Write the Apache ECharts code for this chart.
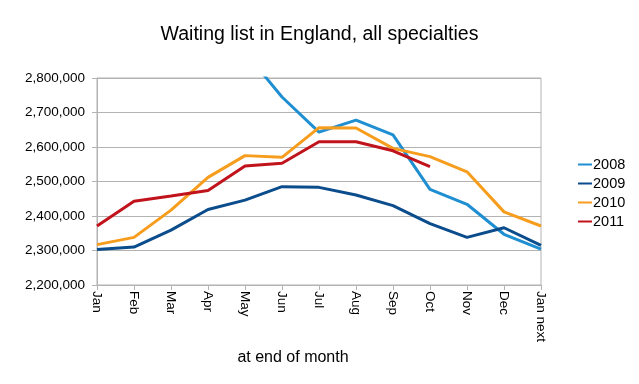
<!DOCTYPE html>
<html><head><meta charset="utf-8">
<script src="https://cdn.jsdelivr.net/npm/echarts@6/dist/echarts.min.js"></script>
<style>html,body{margin:0;padding:0;background:#fff}#c{width:639px;height:384px}</style>
</head><body><div id="c"></div>
<script>
const months = ['Jan','Feb','Mar','Apr','May','Jun','Jul','Aug','Sep','Oct','Nov','Dec','Jan next'];
const y2008 = [null,null,null,null,2875000,2745000,2643000,2678000,2635000,2477000,2434000,2347000,2304000];
const y2009 = [2303000,2310000,2359000,2419000,2446000,2485000,2483000,2461000,2430000,2378000,2338000,2366000,2315000];
const y2010 = [2317000,2338000,2417000,2512000,2575000,2570000,2656000,2655000,2596000,2572000,2528000,2412000,2371000];
const y2011 = [2371000,2443000,2458000,2474000,2545000,2553000,2615000,2615000,2589000,2543000,null,null,null];
const seriesNames = ['2008','2009','2010','2011'];
const colors = ['#1f8fd1','#0b4d8c','#f79d1e','#c1131c'];
const font = 'Liberation Sans, Arial, sans-serif';
const chart = echarts.init(document.getElementById('c'));
const mk = (name, data, i) => ({
  name, type: 'line', data, showSymbol: false, symbol: 'none',
  lineStyle: {width: 3, color: colors[i]}, itemStyle: {color: colors[i]},
  connectNulls: false, clip: true, animation: false
});
chart.setOption({
  animation: false,
  title: {text: 'Waiting list in England, all specialties', left: 'center', top: 20,
    textStyle: {fontFamily: font, fontSize: 19.5, fontWeight: 'normal', color: '#000'}},
  legend: {orient: 'vertical', left: 573, top: 152, itemGap: 4, itemWidth: 14, itemHeight: 2,
    icon: 'rect', data: seriesNames,
    textStyle: {fontFamily: font, fontSize: 14.5, color: '#000', padding: [0,0,0,-4]}},
  grid: {left: 97, right: 98, top: 78, bottom: 99, show: true, borderColor: '#b3b3b3', borderWidth: 1},
  xAxis: {type: 'category', data: months, boundaryGap: false,
    name: 'at end of month', nameLocation: 'middle', nameGap: 62,
    nameTextStyle: {fontFamily: font, fontSize: 16, color: '#000', padding: [0,52,0,0]},
    axisLine: {lineStyle: {color: '#b3b3b3'}},
    axisTick: {show: true, length: 5, lineStyle: {color: '#b3b3b3'}},
    axisLabel: {rotate: -90, fontFamily: font, fontSize: 13.5, color: '#000', margin: 6, interval: 0},
    splitLine: {show: false}},
  yAxis: {type: 'value', min: 2200000, max: 2800000, interval: 100000,
    axisLine: {show: true, lineStyle: {color: '#b3b3b3'}},
    axisTick: {show: true, length: 5, lineStyle: {color: '#b3b3b3'}},
    axisLabel: {fontFamily: font, fontSize: 13.5, color: '#000', margin: 12,
      formatter: v => v.toLocaleString('en-US')},
    splitLine: {show: true, lineStyle: {color: '#b3b3b3'}}},
  series: [mk('2008', y2008, 0), mk('2009', y2009, 1), mk('2010', y2010, 2), mk('2011', y2011, 3)]
});
</script></body></html>
